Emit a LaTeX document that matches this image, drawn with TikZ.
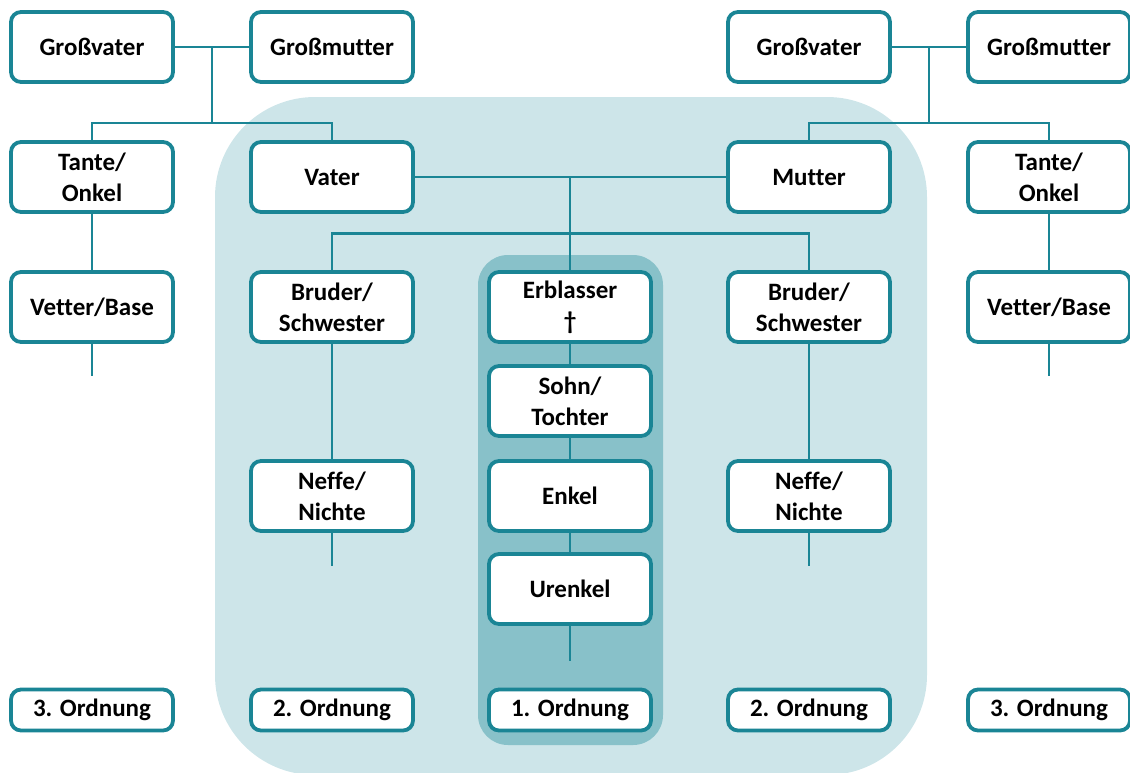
\documentclass[tikz,border=0pt]{standalone}
\usepackage{fontspec}
\setmainfont{Carlito}[Ligatures=CommonOff]
\usetikzlibrary{calc}
\definecolor{teal}{HTML}{1A8595}
\definecolor{lightbg}{HTML}{CDE5E9}
\definecolor{darkbg}{HTML}{88C1C9}
\tikzset{
  person/.style={draw=teal, line width=3.8pt, fill=white, rounded corners=10pt,
    minimum width=162pt, minimum height=70pt, align=center, inner sep=2pt,
    font=\bfseries\fontsize{25}{31}\selectfont},
  order/.style={person, minimum height=41pt},
  link/.style={teal, line width=2.8pt}
}
\begin{document}
\begin{tikzpicture}[x=1pt,y=-1pt]
                    \useasboundingbox (0,0) rectangle (1130,772);
                    \fill[lightbg, rounded corners=100pt] (215,97) rectangle (927,775);
                    \fill[darkbg, rounded corners=30pt] (478,255) rectangle (663,745);

                    \node[person] (gv1) at (92,47) {Großvater};
                    \node[person] (gm1) at (332,47) {Großmutter};
                    \node[person] (gv2) at (809,47) {Großvater};
                    \node[person] (gm2) at (1049,47) {Großmutter};

                    \node[person] (ta1) at (92,177) {Tante/\\Onkel};
                    \node[person] (va) at (332,177) {Vater};
                    \node[person] (mu) at (809,177) {Mutter};
                    \node[person] (ta2) at (1049,177) {Tante/\\Onkel};

                    \node[person] (ve1) at (92,307) {Vetter/Base};
                    \node[person] (br1) at (332,307) {Bruder/\\Schwester};
                    \node[person] (eb) at (570,307) {Erblasser\\\textdagger};
                    \node[person] (br2) at (809,307) {Bruder/\\Schwester};
                    \node[person] (ve2) at (1049,307) {Vetter/Base};

                    \node[person] (so) at (570,401) {Sohn/\\Tochter};
                    \node[person] (ne1) at (332,496) {Neffe/\\Nichte};
                    \node[person] (en) at (570,496) {Enkel};
                    \node[person] (ne2) at (809,496) {Neffe/\\Nichte};
                    \node[person] (ur) at (570,589) {Urenkel};

                    \node[order] (o3l) at (92,710) {3. Ordnung};
                    \node[order] (o2l) at (332,710) {2. Ordnung};
                    \node[order] (o1) at (570,710) {1. Ordnung};
                    \node[order] (o2r) at (809,710) {2. Ordnung};
                    \node[order] (o3r) at (1049,710) {3. Ordnung};

                    \draw[link] (gv1) -- (gm1);
                    \draw[link] ($(gv1.east)!0.5!(gm1.west)$) -- ++(0,76) coordinate (k1);
                    \draw[link] (ta1.north) |- (k1) -| (va.north);

                    \draw[link] (gv2) -- (gm2);
                    \draw[link] ($(gv2.east)!0.5!(gm2.west)$) -- ++(0,76) coordinate (k2);
                    \draw[link] (mu.north) |- (k2) -| (ta2.north);

                    \draw[link] (va) -- (mu);
                    \draw[link] (eb.north) -- (eb.north |- va.east);
                    \draw[link] (br1.north) -- ++(0,-37) -| (br2.north);

                    \draw[link] (ta1) -- (ve1);
                    \draw[link] (ve1.south) -- ++(0,32);
                    \draw[link] (ta2) -- (ve2);
                    \draw[link] (ve2.south) -- ++(0,32);

                    \draw[link] (br1) -- (ne1);
                    \draw[link] (ne1.south) -- ++(0,33);
                    \draw[link] (br2) -- (ne2);
                    \draw[link] (ne2.south) -- ++(0,33);

                    \draw[link] (eb) -- (so);
                    \draw[link] (so) -- (en);
                    \draw[link] (en) -- (ur);
                    \draw[link] (ur.south) -- ++(0,35);
                \end{tikzpicture}
\end{document}
